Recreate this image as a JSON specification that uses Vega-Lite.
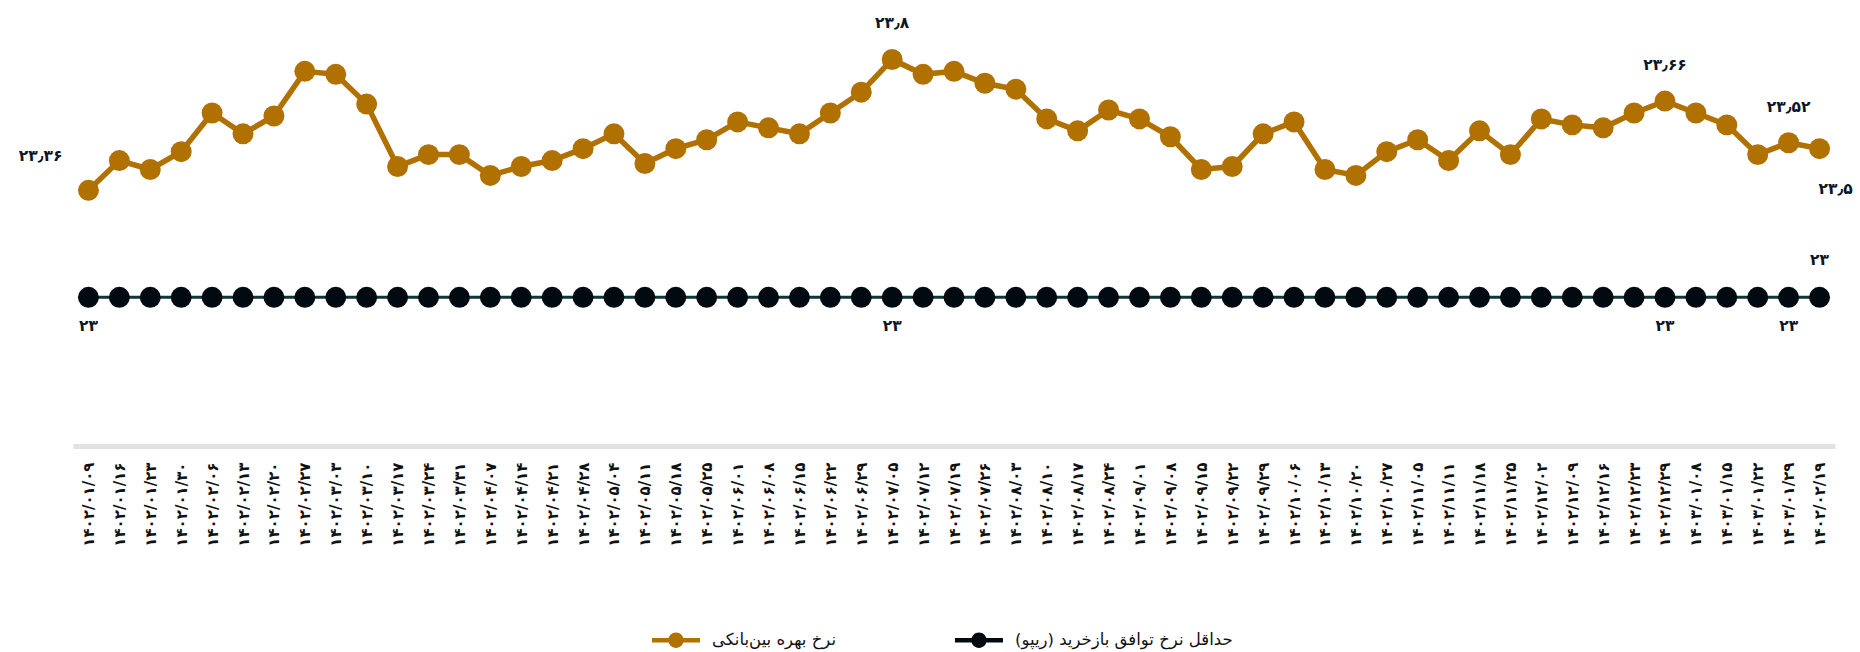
{
  "$schema": "https://vega.github.io/schema/vega-lite/v6.json",
  "autosize": "none",
  "width": 1762,
  "height": 446,
  "padding": {"left": 73, "top": 0, "right": 25, "bottom": 206},
  "config": {
    "view": {"stroke": null},
    "font": "DejaVu Sans",
    "locale": {"number": {"decimal": "٫", "thousands": ",", "grouping": [3], "currency": ["", ""], "numerals": ["۰", "۱", "۲", "۳", "۴", "۵", "۶", "۷", "۸", "۹"]}},
    "axis": {"labelAngle": -90, "labelPadding": 16, "ticks": false, "domainColor": "#e2e2e2", "domainWidth": 5, "labelFontSize": 15, "labelFontWeight": "bold", "labelColor": "#111111", "title": null, "grid": false, "labelFont": "DejaVu Sans", "labelOverlap": false}
  },
  "data": {"values": [
    {"date": "۱۴۰۲/۰۱/۰۹", "interbank": 23.36, "repo": 23},
    {"date": "۱۴۰۲/۰۱/۱۶", "interbank": 23.46, "repo": 23},
    {"date": "۱۴۰۲/۰۱/۲۳", "interbank": 23.43, "repo": 23},
    {"date": "۱۴۰۲/۰۱/۳۰", "interbank": 23.49, "repo": 23},
    {"date": "۱۴۰۲/۰۲/۰۶", "interbank": 23.62, "repo": 23},
    {"date": "۱۴۰۲/۰۲/۱۳", "interbank": 23.55, "repo": 23},
    {"date": "۱۴۰۲/۰۲/۲۰", "interbank": 23.61, "repo": 23},
    {"date": "۱۴۰۲/۰۲/۲۷", "interbank": 23.76, "repo": 23},
    {"date": "۱۴۰۲/۰۳/۰۳", "interbank": 23.75, "repo": 23},
    {"date": "۱۴۰۲/۰۳/۱۰", "interbank": 23.65, "repo": 23},
    {"date": "۱۴۰۲/۰۳/۱۷", "interbank": 23.44, "repo": 23},
    {"date": "۱۴۰۲/۰۳/۲۴", "interbank": 23.48, "repo": 23},
    {"date": "۱۴۰۲/۰۳/۳۱", "interbank": 23.48, "repo": 23},
    {"date": "۱۴۰۲/۰۴/۰۷", "interbank": 23.41, "repo": 23},
    {"date": "۱۴۰۲/۰۴/۱۴", "interbank": 23.44, "repo": 23},
    {"date": "۱۴۰۲/۰۴/۲۱", "interbank": 23.46, "repo": 23},
    {"date": "۱۴۰۲/۰۴/۲۸", "interbank": 23.50, "repo": 23},
    {"date": "۱۴۰۲/۰۵/۰۴", "interbank": 23.55, "repo": 23},
    {"date": "۱۴۰۲/۰۵/۱۱", "interbank": 23.45, "repo": 23},
    {"date": "۱۴۰۲/۰۵/۱۸", "interbank": 23.50, "repo": 23},
    {"date": "۱۴۰۲/۰۵/۲۵", "interbank": 23.53, "repo": 23},
    {"date": "۱۴۰۲/۰۶/۰۱", "interbank": 23.59, "repo": 23},
    {"date": "۱۴۰۲/۰۶/۰۸", "interbank": 23.57, "repo": 23},
    {"date": "۱۴۰۲/۰۶/۱۵", "interbank": 23.55, "repo": 23},
    {"date": "۱۴۰۲/۰۶/۲۲", "interbank": 23.62, "repo": 23},
    {"date": "۱۴۰۲/۰۶/۲۹", "interbank": 23.69, "repo": 23},
    {"date": "۱۴۰۲/۰۷/۰۵", "interbank": 23.80, "repo": 23},
    {"date": "۱۴۰۲/۰۷/۱۲", "interbank": 23.75, "repo": 23},
    {"date": "۱۴۰۲/۰۷/۱۹", "interbank": 23.76, "repo": 23},
    {"date": "۱۴۰۲/۰۷/۲۶", "interbank": 23.72, "repo": 23},
    {"date": "۱۴۰۲/۰۸/۰۳", "interbank": 23.70, "repo": 23},
    {"date": "۱۴۰۲/۰۸/۱۰", "interbank": 23.60, "repo": 23},
    {"date": "۱۴۰۲/۰۸/۱۷", "interbank": 23.56, "repo": 23},
    {"date": "۱۴۰۲/۰۸/۲۴", "interbank": 23.63, "repo": 23},
    {"date": "۱۴۰۲/۰۹/۰۱", "interbank": 23.60, "repo": 23},
    {"date": "۱۴۰۲/۰۹/۰۸", "interbank": 23.54, "repo": 23},
    {"date": "۱۴۰۲/۰۹/۱۵", "interbank": 23.43, "repo": 23},
    {"date": "۱۴۰۲/۰۹/۲۲", "interbank": 23.44, "repo": 23},
    {"date": "۱۴۰۲/۰۹/۲۹", "interbank": 23.55, "repo": 23},
    {"date": "۱۴۰۲/۱۰/۰۶", "interbank": 23.59, "repo": 23},
    {"date": "۱۴۰۲/۱۰/۱۳", "interbank": 23.43, "repo": 23},
    {"date": "۱۴۰۲/۱۰/۲۰", "interbank": 23.41, "repo": 23},
    {"date": "۱۴۰۲/۱۰/۲۷", "interbank": 23.49, "repo": 23},
    {"date": "۱۴۰۲/۱۱/۰۵", "interbank": 23.53, "repo": 23},
    {"date": "۱۴۰۲/۱۱/۱۱", "interbank": 23.46, "repo": 23},
    {"date": "۱۴۰۲/۱۱/۱۸", "interbank": 23.56, "repo": 23},
    {"date": "۱۴۰۲/۱۱/۲۵", "interbank": 23.48, "repo": 23},
    {"date": "۱۴۰۲/۱۲/۰۲", "interbank": 23.60, "repo": 23},
    {"date": "۱۴۰۲/۱۲/۰۹", "interbank": 23.58, "repo": 23},
    {"date": "۱۴۰۲/۱۲/۱۶", "interbank": 23.57, "repo": 23},
    {"date": "۱۴۰۲/۱۲/۲۳", "interbank": 23.62, "repo": 23},
    {"date": "۱۴۰۲/۱۲/۲۹", "interbank": 23.66, "repo": 23},
    {"date": "۱۴۰۳/۰۱/۰۸", "interbank": 23.62, "repo": 23},
    {"date": "۱۴۰۳/۰۱/۱۵", "interbank": 23.58, "repo": 23},
    {"date": "۱۴۰۳/۰۱/۲۲", "interbank": 23.48, "repo": 23},
    {"date": "۱۴۰۳/۰۱/۲۹", "interbank": 23.52, "repo": 23},
    {"date": "۱۴۰۲/۰۲/۱۹", "interbank": 23.50, "repo": 23}
  ]},
  "transform": [{"fold": ["interbank", "repo"], "as": ["series", "rate"]}],
  "encoding": {
    "x": {"field": "date", "type": "ordinal", "sort": null, "scale": {"type": "point", "padding": 0.5}},
    "y": {"field": "rate", "type": "quantitative", "scale": {"domain": [22.5, 24], "zero": false, "nice": false}, "axis": null}
  },
  "layer": [
    {
      "mark": {"type": "line"},
      "encoding": {
        "stroke": {"field": "series", "type": "nominal", "scale": {"domain": ["repo", "interbank"], "range": ["#0c3638", "#B07100"]}, "legend": null},
        "strokeWidth": {"field": "series", "type": "nominal", "scale": {"domain": ["repo", "interbank"], "range": [3, 5.5]}, "legend": null}
      }
    },
    {
      "mark": {"type": "point", "filled": true, "opacity": 1, "size": 440},
      "encoding": {
        "color": {"field": "series", "type": "nominal", "scale": {"domain": ["interbank", "repo"], "range": ["#B07100", "#000a10"]},
          "legend": {"orient": "none", "legendX": 579, "legendY": 616, "direction": "horizontal", "title": null,
            "symbolType": "M-1,-0.09L1,-0.09L1,0.09L-1,0.09Z M0.32,0C0.32,0.1767,0.1767,0.32,0,0.32C-0.1767,0.32,-0.32,0.1767,-0.32,0C-0.32,-0.1767,-0.1767,-0.32,0,-0.32C0.1767,-0.32,0.32,-0.1767,0.32,0Z",
            "symbolSize": 2304, "symbolStrokeWidth": 0, "symbolOpacity": 1, "labelFontSize": 16.5, "labelColor": "#111111", "labelFont": "DejaVu Sans",
            "columnPadding": 119, "labelOffset": 12, "labelLimit": 400,
            "labelExpr": "datum.label == 'interbank' ? 'نرخ بهره بین\u200cبانکی' : 'حداقل نرخ توافق بازخرید (ریپو)'"}}
      }
    },
    {
      "transform": [{"filter": {"and": [{"field": "series", "equal": "interbank"}, {"field": "date", "oneOf": ["۱۴۰۲/۰۷/۰۵", "۱۴۰۲/۱۲/۲۹", "۱۴۰۳/۰۱/۲۹"]}]}}],
      "mark": {"type": "text", "fontWeight": "bold", "fontSize": 15.5, "color": "#0b1626", "dy": -36, "align": "center", "baseline": "middle"},
      "encoding": {"text": {"field": "rate", "type": "quantitative", "format": ".2~f"}}
    },
    {
      "transform": [{"filter": {"and": [{"field": "series", "equal": "interbank"}, {"field": "date", "equal": "۱۴۰۲/۰۱/۰۹"}]}}],
      "mark": {"type": "text", "fontWeight": "bold", "fontSize": 15.5, "color": "#0b1626", "dy": -34, "dx": -26, "align": "right", "baseline": "middle"},
      "encoding": {"text": {"field": "rate", "type": "quantitative", "format": ".2~f"}}
    },
    {
      "transform": [{"filter": {"and": [{"field": "series", "equal": "interbank"}, {"field": "date", "equal": "۱۴۰۲/۰۲/۱۹"}]}}],
      "mark": {"type": "text", "fontWeight": "bold", "fontSize": 15.5, "color": "#0b1626", "dy": 40, "dx": -1, "align": "left", "baseline": "middle"},
      "encoding": {"text": {"field": "rate", "type": "quantitative", "format": ".2~f"}}
    },
    {
      "transform": [{"filter": {"and": [{"field": "series", "equal": "repo"}, {"field": "date", "oneOf": ["۱۴۰۲/۰۱/۰۹", "۱۴۰۲/۰۷/۰۵", "۱۴۰۲/۱۲/۲۹", "۱۴۰۳/۰۱/۲۹"]}]}}],
      "mark": {"type": "text", "fontWeight": "bold", "fontSize": 15.5, "color": "#0b1626", "dy": 29, "align": "center", "baseline": "middle"},
      "encoding": {"text": {"field": "rate", "type": "quantitative", "format": ".2~f"}}
    },
    {
      "transform": [{"filter": {"and": [{"field": "series", "equal": "repo"}, {"field": "date", "equal": "۱۴۰۲/۰۲/۱۹"}]}}],
      "mark": {"type": "text", "fontWeight": "bold", "fontSize": 15.5, "color": "#0b1626", "dy": -37, "align": "center", "baseline": "middle"},
      "encoding": {"text": {"field": "rate", "type": "quantitative", "format": ".2~f"}}
    }
  ]
}
